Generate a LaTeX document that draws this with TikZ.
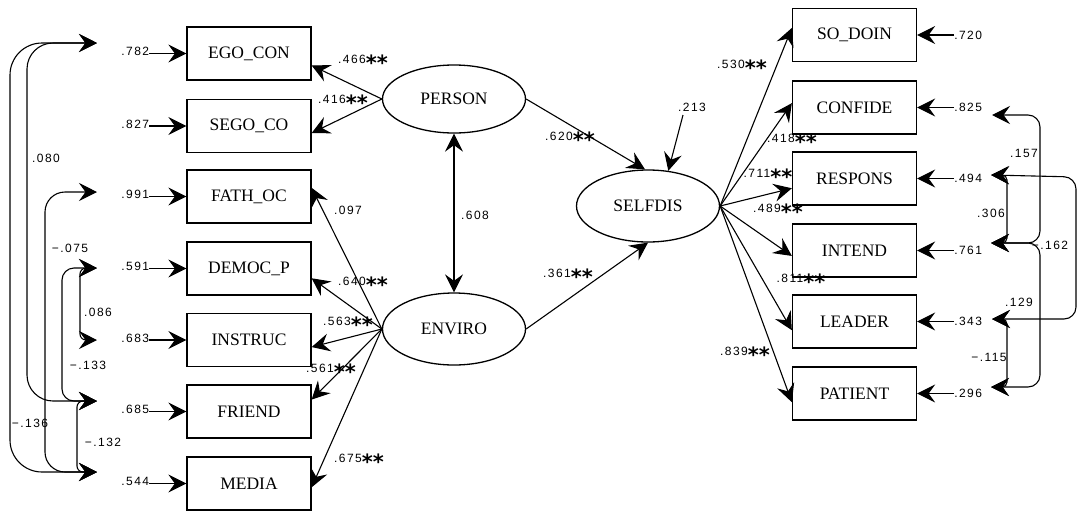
\documentclass[tikz,border=0pt]{standalone}
\usepackage{fontspec}
\setmainfont{Liberation Serif}
\newfontfamily\numfont[LetterSpace=12]{Liberation Sans}
\newfontfamily\starfont{DejaVu Sans}
\usetikzlibrary{shapes.geometric,arrows.meta,calc}
\newcommand\stars{{\starfont\bfseries\fontsize{21}{21}\selectfont\raisebox{-7pt}{**}}}
\begin{document}
\begin{tikzpicture}[x=1pt,y=-1pt,
  obs/.style={draw,line width=1.3pt,minimum width=124pt,minimum height=53pt,inner sep=0pt,font=\fontsize{17.5}{18}\selectfont},
  lat/.style={draw,ellipse,line width=1.3pt,minimum width=143pt,minimum height=70pt,inner sep=0pt,font=\fontsize{17.5}{18}\selectfont},
  num/.style={font=\numfont\fontsize{12}{13}\selectfont,inner sep=0pt},
  arr/.style={line width=1.1pt,-{Stealth[length=18pt,width=18pt,inset=6.5pt]}},
  cov/.style={line width=1.1pt,{Stealth[length=18pt,width=18pt,inset=6.5pt]}-{Stealth[length=18pt,width=18pt,inset=6.5pt]}},
]
\useasboundingbox (0,0) rectangle (1084,512);
\fill[white] (0,0) rectangle (1084,512);

% observed left
\node[obs] (ego) at (249,53.5) {EGO\_CON};
\node[obs] (seg) at (249,126) {SEGO\_CO};
\node[obs] (fat) at (249,196.5) {FATH\_OC};
\node[obs] (dem) at (249,268.5) {DEMOC\_P};
\node[obs] (ins) at (249,340) {INSTRUC};
\node[obs] (fri) at (249,411.5) {FRIEND};
\node[obs] (med) at (249,483.5) {MEDIA};
% observed right
\node[obs] (sod) at (854.5,35) {SO\_DOIN};
\node[obs] (con) at (854.5,107.5) {CONFIDE};
\node[obs] (res) at (854.5,178.5) {RESPONS};
\node[obs] (int) at (854.5,250.5) {INTEND};
\node[obs] (lea) at (854.5,321.5) {LEADER};
\node[obs] (pat) at (854.5,393.5) {PATIENT};
% latent
\node[lat,minimum height=68pt] (per) at (454,99) {PERSON};
\node[lat,minimum height=72pt] (env) at (454,329) {ENVIRO};
\node[lat,minimum height=72pt] (sel) at (648,206) {SELFDIS};

% left error terms
\foreach \b/\v in {ego/.782,seg/.827,fat/.991,dem/.591,ins/.683,fri/.685,med/.544}{
  \node[num,anchor=base east] (e\b) at ($(\b.west)+(-37,2)$) {\v};
  \draw[arr] (e\b.east |- \b.west) -- (\b.west);
}
% right error terms
\foreach \b/\v in {sod/.720,con/.825,res/.494,int/.761,lea/.343,pat/.296}{
  \node[num,anchor=west] (e\b) at ($(\b.east)+(37,0)$) {\v};
  \draw[arr] (e\b.west) -- (e\b.west -| \b.east);
}

% loadings PERSON
\draw[arr] (per.west) -- ($(ego.north east)!0.72!(ego.south east)$);
\draw[arr] (per.west) -- ($(seg.north east)!0.63!(seg.south east)$);
% loadings ENVIRO
\draw[arr] (env.west) -- ($(fat.north east)!0.34!(fat.south east)$);
\draw[arr] (env.west) -- ($(dem.north east)!0.68!(dem.south east)$);
\draw[arr] (env.west) -- ($(ins.north east)!0.63!(ins.south east)$);
\draw[arr] (env.west) -- ($(fri.north east)!0.28!(fri.south east)$);
\draw[arr] (env.west) -- ($(med.north east)!0.57!(med.south east)$);
% latent correlations and paths
\draw[cov] (per.south) -- (env.north);
\draw[arr] (per.east) -- ([xshift=-3pt]sel.north);
\draw[arr] (env.east) -- (sel.south);
\coordinate (dist) at (683,115);
\draw[arr] (dist) -- (sel.60);
% loadings SELFDIS
\draw[arr] (sel.east) -- ($(sod.north west)!0.37!(sod.south west)$);
\draw[arr] (sel.east) -- ($(con.north west)!0.42!(con.south west)$);
\draw[arr] (sel.east) -- ($(res.north west)!0.68!(res.south west)$);
\draw[arr] (sel.east) -- ($(int.north west)!0.6!(int.south west)$);
\draw[arr] (sel.east) -- ($(lea.north west)!0.66!(lea.south west)$);
\draw[arr] (sel.east) -- ($(pat.north west)!0.66!(pat.south west)$);

% path labels
\node[num] at (363,63) {.466\stars};
\node[num] at (343,103) {.416\stars};
\node[num] at (348,210) {.097};
\node[num] at (363,285) {.640\stars};
\node[num] at (348,325) {.563\stars};
\node[num] at (331,372) {.561\stars};
\node[num] at (359,462) {.675\stars};
\node[num] at (475,215) {.608};
\node[num] at (570,140) {.620\stars};
\node[num] at (568,277) {.361\stars};
\node[num] at (692,107) {.213};
\node[num] at (742,68) {.530\stars};
\node[num] at (792,142) {.418\stars};
\node[num] at (768,177) {.711\stars};
\node[num] at (778,212) {.489\stars};
\node[num] at (801,282) {.811\stars};
\node[num] at (745,355) {.839\stars};

% left covariances
\coordinate (lE) at (97,43);
\coordinate (lF) at (97,192);
\coordinate (lD) at (97,268);
\coordinate (lI) at (97,340);
\coordinate (lR) at (97,401);
\coordinate (lM) at (97,472);
\draw[cov,rounded corners=32pt] (lE) -- (10,43) -- (10,472) -- (lM);
\draw[cov,rounded corners=26pt] (lE) -- (27,43) -- (27,401) -- (lR);
\draw[cov,rounded corners=20pt] (lF) -- (45,192) -- (45,472) -- (lM);
\draw[cov,rounded corners=12pt] (lD) -- (62,268) -- (62,401) -- (lR);
\draw[cov,rounded corners=6pt] (lD) -- (80,268) -- (80,340) -- (lI);
\draw[cov,rounded corners=6pt] (lR) -- (77,401) -- (77,472) -- (lM);
\node[num] at (46,158) {.080};
\node[num] at (70,248) {−.075};
\node[num] at (98,312) {.086};
\node[num] at (88,365) {−.133};
\node[num] at (30,423) {−.136};
\node[num] at (103,442) {−.132};

% right covariances
\coordinate (rC) at (992,115);
\coordinate (rR) at (991,175);
\coordinate (rI) at (991,243);
\coordinate (rL) at (992,319);
\coordinate (rP) at (991,387);
\draw[cov,rounded corners=12pt] (rC) -- (1040,115) -- (1040,243) -- (rI);
\draw[cov,rounded corners=5pt] (rR) -- (1007,175) -- (1007,243) -- (rI);
\draw[cov,rounded corners=12pt] (rR) -- (1076,177) -- (1076,319) -- (rL);
\draw[cov,rounded corners=12pt] (rI) -- (1040,243) -- (1040,387) -- (rP);
\draw[cov,rounded corners=5pt] (rL) -- (1007,319) -- (1007,387) -- (rP);
\node[num] at (1024,153) {.157};
\node[num] at (991,213) {.306};
\node[num] at (1050,245) {−.162};
\node[num] at (1019,302) {.129};
\node[num] at (989,357) {−.115};
\end{tikzpicture}
\end{document}
